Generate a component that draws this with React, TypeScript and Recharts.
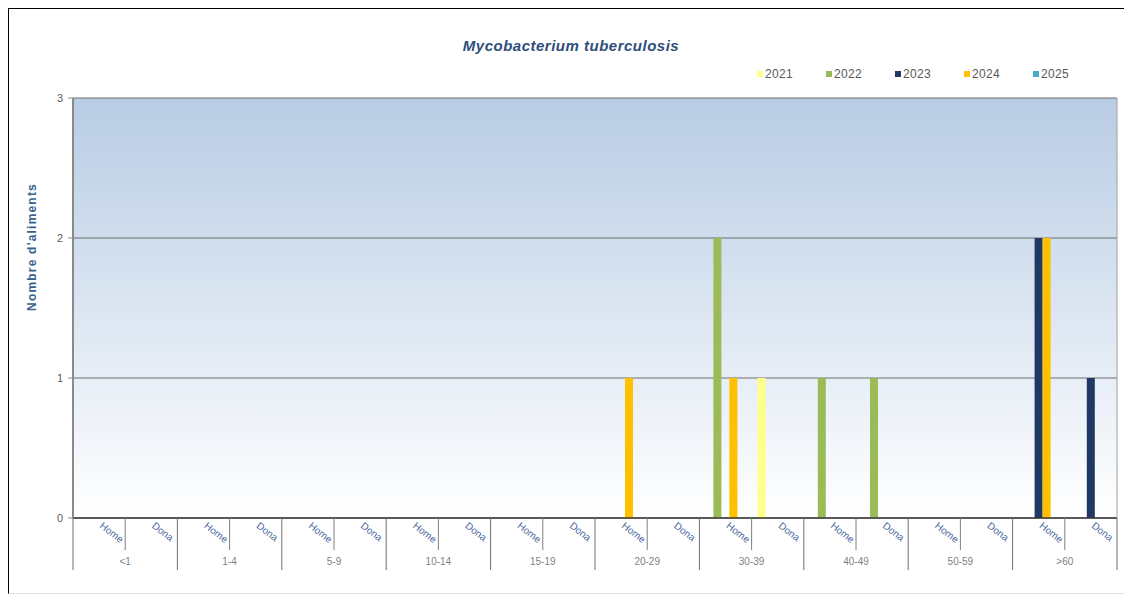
import { BarChart, Bar, XAxis, YAxis, CartesianGrid, Legend } from 'recharts';

const AGE_GROUPS = ['<1', '1-4', '5-9', '10-14', '15-19', '20-29', '30-39', '40-49', '50-59', '>60'];
const SEXES = ['Home', 'Dona'];
const YEARS = ['2021', '2022', '2023', '2024', '2025'];

// one value per age group and sex: Home, Dona, Home, Dona, ...
const CASES_2021 = [0, 0, 0, 0, 0, 0, 0, 0, 0, 0, 0, 0, 0, 1, 0, 0, 0, 0, 0, 0];
const CASES_2022 = [0, 0, 0, 0, 0, 0, 0, 0, 0, 0, 0, 0, 2, 0, 1, 1, 0, 0, 0, 0];
const CASES_2023 = [0, 0, 0, 0, 0, 0, 0, 0, 0, 0, 0, 0, 0, 0, 0, 0, 0, 0, 2, 1];
const CASES_2024 = [0, 0, 0, 0, 0, 0, 0, 0, 0, 0, 1, 0, 1, 0, 0, 0, 0, 0, 2, 0];
const CASES_2025 = [0, 0, 0, 0, 0, 0, 0, 0, 0, 0, 0, 0, 0, 0, 0, 0, 0, 0, 0, 0];
const Y_TICKS = [0, 1, 2, 3];

const SERIES = [CASES_2021, CASES_2022, CASES_2023, CASES_2024, CASES_2025];
const YEAR_COLORS: Record<string, string> = {
  '2021': '#ffff8c',
  '2022': '#9bbb59',
  '2023': '#1f3864',
  '2024': '#ffc000',
  '2025': '#4bacc6',
};

const FONT = '"Liberation Sans", Arial, sans-serif';

const data = AGE_GROUPS.flatMap((age, g) =>
  SEXES.map((sex, s) => {
    const row: Record<string, string | number> = { key: `${age}|${sex}` };
    YEARS.forEach((year, k) => {
      row[year] = SERIES[k][g * SEXES.length + s];
    });
    return row;
  }),
);

function SexTick(props: any) {
  const { x, y, payload, index } = props;
  const [age, sex] = String(payload.value).split('|');
  const half = payload.offset ?? 0;
  const isFirst = sex === SEXES[0];
  const isLast = index === data.length - 1;
  const ly = y + 9;
  return (
    <g>
      <text
        x={x}
        y={ly}
        transform={`rotate(38 ${x} ${ly})`}
        textAnchor="start"
        fontSize={10}
        fontFamily={FONT}
        fill="#4a66a0"
      >
        {sex}
      </text>
      {isFirst && (
        <>
          <line x1={x + half} y1={y} x2={x + half} y2={y + 32} stroke="#7f7f7f" />
          <line x1={x - half} y1={y} x2={x - half} y2={y + 52} stroke="#6f6f6f" />
          <text x={x + half} y={y + 47} textAnchor="middle" fontSize={10} fontFamily={FONT} fill="#7f7f7f">
            {age}
          </text>
        </>
      )}
      {isLast && <line x1={x + half} y1={y} x2={x + half} y2={y + 52} stroke="#6f6f6f" />}
    </g>
  );
}

function YAxisTitle(props: any) {
  const { viewBox } = props;
  const cx = viewBox.x + 23;
  const cy = viewBox.y + viewBox.height / 2 - 61;
  return (
    <text
      x={cx}
      y={cy}
      transform={`rotate(-90 ${cx} ${cy})`}
      textAnchor="middle"
      dominantBaseline="central"
      fontSize={12}
      fontWeight="bold"
      letterSpacing={1.2}
      fontFamily={FONT}
      fill="#3b5f8f"
    >
      Nombre d'aliments
    </text>
  );
}

function YearLegend(props: any) {
  const { payload = [] } = props;
  return (
    <div style={{ display: 'flex', fontFamily: FONT, fontSize: 12, color: '#595959', letterSpacing: 0.3 }}>
      {payload.map((p: any) => (
        <div key={p.value} style={{ width: 69, display: 'flex', alignItems: 'center' }}>
          <span style={{ width: 6, height: 6, background: p.color, marginRight: 2, display: 'inline-block' }} />
          {p.value}
        </div>
      ))}
    </div>
  );
}

export default function App() {
  return (
    <div
      style={{
        position: 'relative',
        width: 1124,
        height: 584,
        borderTop: '1px solid #000',
        borderLeft: '1px solid #000',
        borderBottom: '1px solid #e0e0e0',
        background: '#fff',
      }}
    >
      <div
        style={{
          position: 'absolute',
          top: 28,
          left: 0,
          width: 1124,
          textAlign: 'center',
          fontFamily: FONT,
          fontSize: 15,
          fontWeight: 'bold',
          fontStyle: 'italic',
          letterSpacing: 0.5,
          color: '#2e4d7b',
          lineHeight: '18px',
          zIndex: 1,
        }}
      >
        Mycobacterium tuberculosis
      </div>
      <BarChart
        width={1124}
        height={584}
        data={data}
        margin={{ top: 89, right: 15, left: 0, bottom: 0 }}
        barSize={8}
        barGap={0}
      >
        <defs>
          <linearGradient id="plotBg" x1="0" y1="0" x2="0" y2="1">
            <stop offset="0%" stopColor="#b8cce4" />
            <stop offset="100%" stopColor="#ffffff" />
          </linearGradient>
        </defs>
        <CartesianGrid vertical={false} stroke="#6e6e6e" fill="url(#plotBg)" fillOpacity={1} />
        <XAxis
          dataKey="key"
          interval={0}
          height={75}
          tickSize={0}
          tickMargin={0}
          tickLine={false}
          axisLine={{ stroke: '#3a3a3a', strokeWidth: 1.5 }}
          tick={<SexTick />}
        />
        <YAxis
          width={64}
          domain={[0, 3]}
          ticks={Y_TICKS}
          tickSize={5}
          tickMargin={5}
          tickLine={{ stroke: '#8a8a8a' }}
          axisLine={{ stroke: '#8a8a8a', strokeWidth: 2 }}
          tick={{ fontSize: 11, fill: '#595959', fontFamily: FONT }}
          label={{ content: YAxisTitle }}
        />
        <YAxis
          yAxisId="right"
          orientation="right"
          width={1}
          tick={false}
          tickLine={false}
          axisLine={{ stroke: '#a0a0a0' }}
        />
        <Legend
          layout="horizontal"
          verticalAlign="middle"
          align="center"
          wrapperStyle={{ top: 58, left: 748, width: 360 }}
          content={<YearLegend />}
        />
        {YEARS.map((year) => (
          <Bar key={year} dataKey={year} name={year} fill={YEAR_COLORS[year]} isAnimationActive={false} />
        ))}
      </BarChart>
    </div>
  );
}
